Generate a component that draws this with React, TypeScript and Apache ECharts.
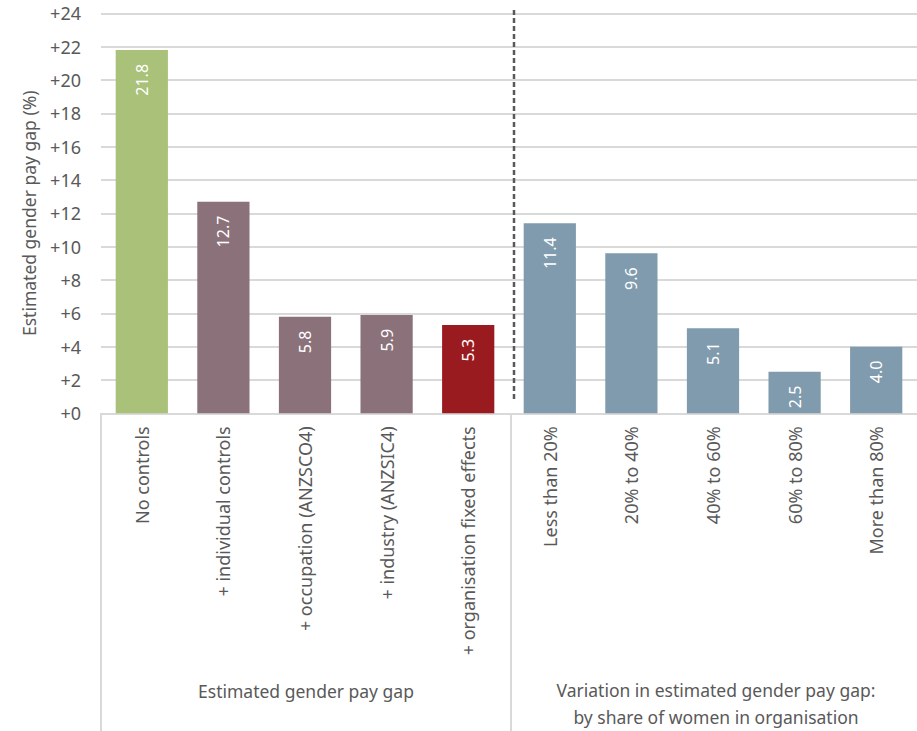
import React, { useEffect, useRef } from "react";
import * as echarts from "echarts";

const categories = [
  "No controls",
  "+ individual controls",
  "+ occupation (ANZSCO4)",
  "+ industry (ANZSIC4)",
  "+ organisation fixed effects",
  "Less than 20%",
  "20% to 40%",
  "40% to 60%",
  "60% to 80%",
  "More than 80%",
];
const values = [21.8, 12.7, 5.8, 5.9, 5.3, 11.4, 9.6, 5.1, 2.5, 4.0];
const barColors = [
  "#A9C178",
  "#8B717A",
  "#8B717A",
  "#8B717A",
  "#9A1B1F",
  "#7F9BAD",
  "#7F9BAD",
  "#7F9BAD",
  "#7F9BAD",
  "#7F9BAD",
];
const groupLabels = [
  "Estimated gender pay gap",
  "Variation in estimated gender pay gap:\nby share of women in organisation",
];
const groupSizes = [5, 5];
const yName = "Estimated gender pay gap (%)";
const yMin = 0;
const yMax = 24;
const yInterval = 2;

const FONT = "'Noto Sans', sans-serif";
const TEXT = "#595959";
const GRIDC = "#D9D9D9";

export default function App() {
  const ref = useRef<HTMLDivElement>(null);
  useEffect(() => {
    if (!ref.current) return;
    const chart = echarts.init(ref.current, undefined, { renderer: "svg" });
    const gLeft = 101;
    const gTop = 13.3;
    const gW = 820;
    const gH = 400;
    const catW = gW / categories.length;
    const bottomY = gTop + gH;

    const graphics: any[] = [];
    let acc = 0;
    const seps = [0];
    groupSizes.forEach((s) => {
      acc += s;
      seps.push(acc);
    });
    seps.forEach((s) => {
      const x = gLeft + s * catW;
      graphics.push({
        type: "line",
        shape: { x1: x, y1: bottomY, x2: x, y2: 731 },
        style: { stroke: GRIDC, lineWidth: 2 },
        silent: true,
      });
    });
    groupLabels.forEach((t, i) => {
      const cx = gLeft + ((seps[i] + seps[i + 1]) / 2) * catW;
      graphics.push({
        type: "text",
        x: cx,
        y: i === 0 ? 691 : 703.5,
        style: {
          text: t,
          fill: TEXT,
          font: `17.5px ${FONT}`,
          align: "center",
          verticalAlign: "middle",
          lineHeight: 27,
        },
        silent: true,
      });
    });
    const dx = gLeft + groupSizes[0] * catW + 3;
    graphics.push({
      type: "line",
      shape: { x1: dx, y1: 10, x2: dx, y2: 402 },
      style: { stroke: "#595959", lineWidth: 2.5, lineDash: [5, 3] },
      silent: true,
      z: 10,
    });

    chart.setOption({
      animation: false,
      grid: { left: gLeft, top: gTop, width: gW, height: gH, containLabel: false },
      xAxis: {
        type: "category",
        data: categories,
        axisLine: { show: true, lineStyle: { color: GRIDC, width: 2 } },
        axisTick: { show: false },
        axisLabel: {
          rotate: 90,
          interval: 0,
          margin: 13,
          color: TEXT,
          fontFamily: FONT,
          fontSize: 18,
        },
      },
      yAxis: {
        type: "value",
        min: yMin,
        max: yMax,
        interval: yInterval,
        name: yName,
        nameLocation: "middle",
        nameGap: 63,
        nameTextStyle: { color: TEXT, fontFamily: FONT, fontSize: 17.5 },
        axisLine: { show: false },
        axisTick: { show: false },
        axisLabel: {
          formatter: (v: number) => "+" + v,
          color: TEXT,
          fontFamily: FONT,
          fontSize: 18,
          margin: 20,
        },
        splitLine: { lineStyle: { color: GRIDC, width: 2 } },
      },
      series: [
        {
          type: "bar",
          data: values.map((v, i) => ({ value: v, itemStyle: { color: barColors[i] } })),
          barCategoryGap: "36%",
          label: {
            show: true,
            position: "insideTop",
            rotate: 90,
            align: "right",
            verticalAlign: "middle",
            distance: 14,
            color: "#FFFFFF",
            fontFamily: FONT,
            fontSize: 16,
            formatter: (p: any) => Number(p.value).toFixed(1),
          },
        },
      ],
      graphic: graphics,
    });
    return () => chart.dispose();
  }, []);
  return (
    <div
      ref={ref}
      style={{ position: "fixed", left: 0, top: 0, width: 917, height: 731, background: "#fff" }}
    />
  );
}
